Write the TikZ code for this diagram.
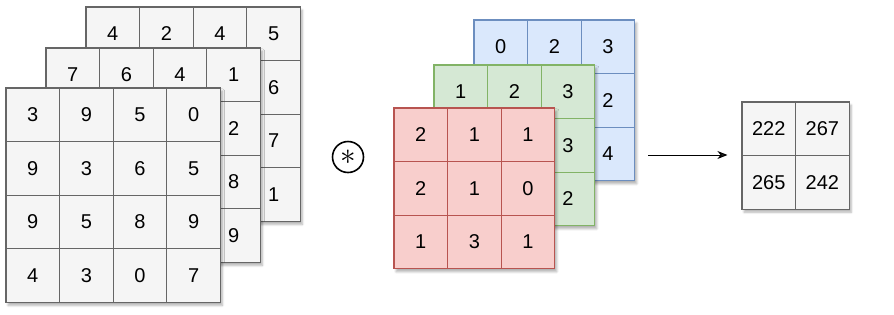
\documentclass[tikz,border=0pt]{standalone}
\usepackage{fontspec}
\setmainfont{Liberation Sans}
\usetikzlibrary{arrows.meta,positioning,shadows.blur}
\definecolor{cellfill}{HTML}{F5F5F5}
\definecolor{celldraw}{HTML}{666666}
\definecolor{redfill}{HTML}{F8CECC}
\definecolor{reddraw}{HTML}{B85450}
\definecolor{greenfill}{HTML}{D5E8D4}
\definecolor{greendraw}{HTML}{82B366}
\definecolor{bluefill}{HTML}{DAE8FC}
\definecolor{bluedraw}{HTML}{6C8EBF}
\newcommand{\cs}{53.6}
% name, left, top, columns, cell style, values row by row
\newcommand{\cellgrid}[6]{%
  \path[blur shadow={shadow xshift=2pt,shadow yshift=-3pt,shadow opacity=30,shadow blur steps=6}]
    (#2,#3) rectangle ++(#4*\cs,#4*\cs);
  \foreach \v [count=\k from 0] in {#6}{
    \pgfmathtruncatemacro\row{\k/#4}
    \pgfmathtruncatemacro\col{mod(\k,#4)}
    \node[#5] (#1-\row-\col) at (#2+\col*\cs+\cs/2,#3+\row*\cs+\cs/2) {\v};
  }}

\begin{document}
\begin{tikzpicture}[x=1pt,y=-1pt,every node/.style={font=\fontsize{20}{22}\selectfont},
  cell/.style={draw=celldraw,fill=cellfill,line width=1.2pt,minimum size=\cs pt,inner sep=0pt},
  redcell/.style={cell,draw=reddraw,fill=redfill},
  greencell/.style={cell,draw=greendraw,fill=greenfill},
  bluecell/.style={cell,draw=bluedraw,fill=bluefill}]
  \useasboundingbox (0,0) rectangle (894,314);
  % input channels
  \cellgrid{img3}{86}{7}{4}{cell}{4,2,4,5,{},{},{},6,{},{},{},7,{},{},{},1}
  \cellgrid{img2}{46}{48}{4}{cell}{7,6,4,1,{},{},{},2,{},{},{},8,{},{},{},9}
  \cellgrid{img1}{6}{88}{4}{cell}{3,9,5,0,9,3,6,5,9,5,8,9,4,3,0,7}
  % convolution sign
  \node[draw,circle,line width=1.6pt,minimum size=31pt,inner sep=0pt] (conv) at (348,157) {\scalebox{1.5}{$\ast$}};
  % kernels
  \cellgrid{ker3}{474}{20}{3}{bluecell}{0,2,3,{},{},2,{},{},4}
  \cellgrid{ker2}{434}{65}{3}{greencell}{1,2,3,{},{},3,{},{},2}
  \cellgrid{ker1}{394}{108}{3}{redcell}{2,1,1,2,1,0,1,3,1}
  % output
  \cellgrid{out}{742}{102}{2}{cell}{222,267,265,242}
  \coordinate (arrowstart) at (648,155);
  \draw[-{Stealth[length=10pt,width=8pt]},line width=1pt] (arrowstart) -- ([xshift=-14pt]arrowstart -| out-0-0.west);
\end{tikzpicture}
\end{document}
